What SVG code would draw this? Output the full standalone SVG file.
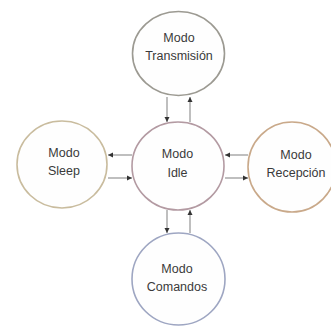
<svg xmlns="http://www.w3.org/2000/svg" width="331" height="329" viewBox="0 0 331 329">
<defs>
<marker id="ah" markerWidth="6" markerHeight="6" refX="5" refY="3" orient="auto" markerUnits="userSpaceOnUse">
<path d="M0,0.5 L5,3 L0,5.5 Z" fill="#333"/>
</marker>
<style>
.n{fill:#fefefe;stroke-width:1.6}
.t{font-family:"Liberation Sans",Arial,sans-serif;font-size:12.5px;fill:#3a3a3a;text-anchor:middle}
.c{stroke:#8a8a8a;stroke-width:1.1;fill:none;marker-end:url(#ah)}
</style>
</defs>
<rect width="331" height="329" fill="#ffffff"/>
<g id="connectors">
<line class="c" x1="167" y1="97" x2="167" y2="122"/>
<line class="c" x1="190" y1="122" x2="190" y2="97"/>
<line class="c" x1="167" y1="210" x2="167" y2="233"/>
<line class="c" x1="190" y1="233" x2="190" y2="210"/>
<line class="c" x1="132" y1="155" x2="108" y2="155"/>
<line class="c" x1="108" y1="178" x2="132" y2="178"/>
<line class="c" x1="248" y1="155" x2="225" y2="155"/>
<line class="c" x1="225" y1="178" x2="248" y2="178"/>
</g>
<g id="transmision">
<ellipse class="n" cx="178.5" cy="53.5" rx="46" ry="42" stroke="#9c9a92"/>
<text class="t" x="179" y="42">Modo</text>
<text class="t" x="179" y="60">Transmisión</text>
</g>
<g id="idle">
<ellipse class="n" cx="178" cy="166" rx="46" ry="44" stroke="#b39aa2"/>
<text class="t" x="177.5" y="158">Modo</text>
<text class="t" x="177.5" y="177">Idle</text>
</g>
<g id="sleep">
<ellipse class="n" cx="62" cy="164.5" rx="45" ry="43.5" stroke="#c9bc9e"/>
<text class="t" x="64" y="157">Modo</text>
<text class="t" x="64" y="175">Sleep</text>
</g>
<g id="recepcion">
<ellipse class="n" cx="292" cy="167" rx="44" ry="45" stroke="#c9a98a"/>
<text class="t" x="296" y="159">Modo</text>
<text class="t" x="296" y="177">Recepción</text>
</g>
<g id="comandos">
<ellipse class="n" cx="178.5" cy="279" rx="46.5" ry="46" stroke="#9ea6c2"/>
<text class="t" x="177" y="273">Modo</text>
<text class="t" x="177" y="291">Comandos</text>
</g>
</svg>
